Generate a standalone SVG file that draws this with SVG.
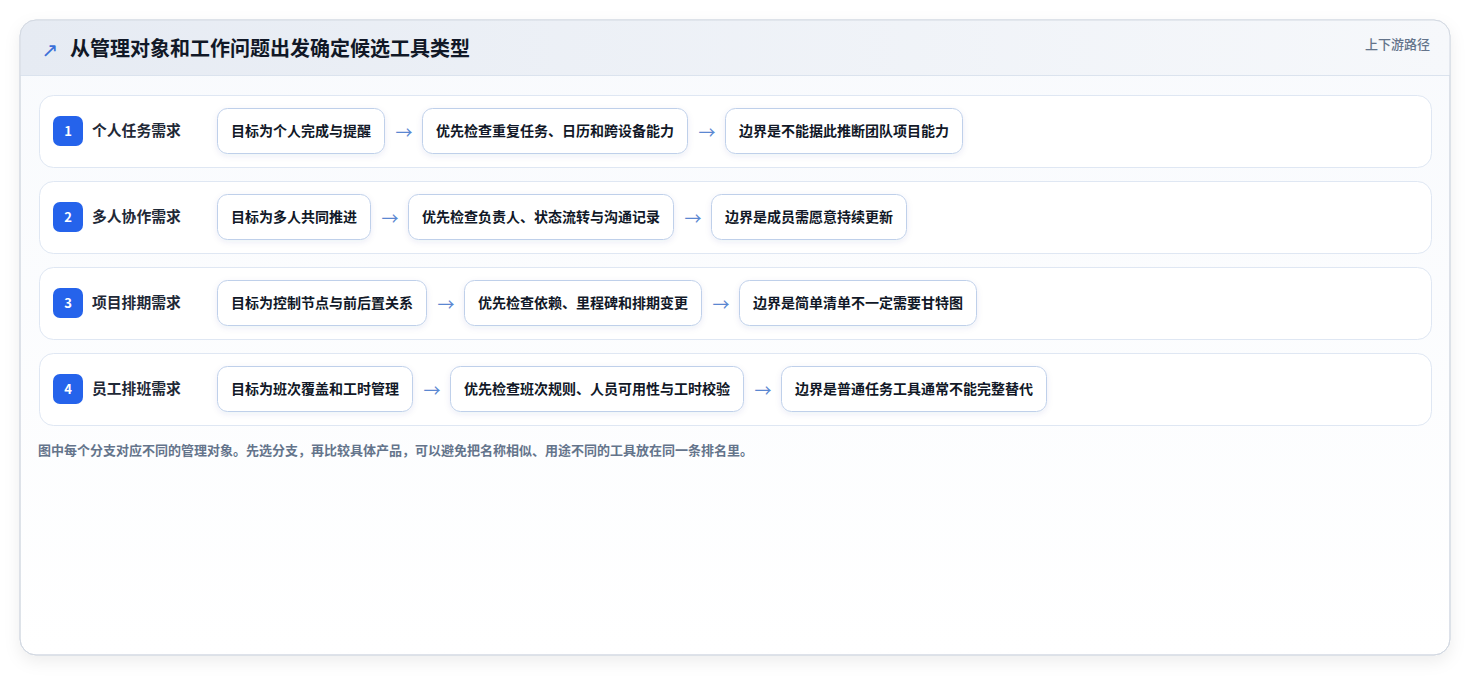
<svg xmlns="http://www.w3.org/2000/svg" width="1471" height="676" viewBox="0 0 1471 676">
<style>
text{font-family:"Noto Sans CJK SC","Noto Sans",sans-serif;}
.title{font-size:20px;font-weight:700;fill:#111827;}
.meta{font-size:13px;font-weight:500;fill:#64748b;}
.row{fill:#ffffff;stroke:#dfe7f3;stroke-width:1;}
.badge{fill:#2563eb;}
.num{font-size:13px;font-weight:700;fill:#ffffff;text-anchor:middle;}
.lab{font-size:14.8px;font-weight:700;fill:#1f2937;}
.box{fill:#ffffff;stroke:#bfd0ea;stroke-width:1;filter:url(#bs);}
.bt{font-size:14px;font-weight:700;fill:#111827;text-anchor:middle;}
.arr{font-size:17px;fill:#5b87d1;text-anchor:middle;}
.note{font-size:13px;font-weight:700;fill:#64748b;}
</style>
<defs>
<linearGradient id="hg" x1="0" y1="0" x2="1" y2="0">
<stop offset="0" stop-color="#e6ebf3"/>
<stop offset="1" stop-color="#f6f8fb"/>
</linearGradient>
<linearGradient id="cg" x1="0" y1="0" x2="0" y2="1">
<stop offset="0" stop-color="#f8fafd"/>
<stop offset="1" stop-color="#ffffff"/>
</linearGradient>
<filter id="cs" x="-5%" y="-5%" width="110%" height="115%">
<feDropShadow dx="0" dy="6" stdDeviation="8" flood-color="#0f172a" flood-opacity="0.07"/>
</filter>
<filter id="bs" x="-10%" y="-20%" width="120%" height="150%">
<feDropShadow dx="0" dy="2" stdDeviation="3" flood-color="#1e3a8a" flood-opacity="0.08"/>
</filter>
<clipPath id="cc"><rect x="20" y="20" width="1430" height="635" rx="16"/></clipPath>
</defs>
<rect x="0" y="0" width="1471" height="676" fill="#ffffff"/>
<g id="card">
<rect x="20" y="20" width="1430" height="635" rx="16" fill="url(#cg)" stroke="#d3d9e2" filter="url(#cs)"/>
<g clip-path="url(#cc)">
<rect x="20" y="20" width="1430" height="55" fill="url(#hg)"/>
<line x1="20" y1="75.5" x2="1450" y2="75.5" stroke="#dbe3ee"/>
</g>
<rect x="20" y="20" width="1430" height="635" rx="16" fill="none" stroke="#d3d9e2"/>
</g>
<g id="header">
<text x="50" y="57" font-size="20" fill="#3b6fd8" text-anchor="middle" style="font-family:'DejaVu Sans',sans-serif">↗</text>
<text class="title" x="70" y="56">从管理对象和工作问题出发确定候选工具类型</text>
<text class="meta" x="1430" y="49" text-anchor="end">上下游路径</text>
</g>
<g id="row1">
<rect class="row" x="39.5" y="95.5" width="1392" height="72" rx="14"/>
<rect class="badge" x="53" y="116" width="30" height="30" rx="7"/>
<text class="num" x="68" y="136">1</text>
<text class="lab" x="92" y="136">个人任务需求</text>
</g>
<g id="row2">
<rect class="row" x="39.5" y="181.5" width="1392" height="72" rx="14"/>
<rect class="badge" x="53" y="202" width="30" height="30" rx="7"/>
<text class="num" x="68" y="222">2</text>
<text class="lab" x="92" y="222">多人协作需求</text>
</g>
<g id="row3">
<rect class="row" x="39.5" y="267.5" width="1392" height="72" rx="14"/>
<rect class="badge" x="53" y="288" width="30" height="30" rx="7"/>
<text class="num" x="68" y="308">3</text>
<text class="lab" x="92" y="308">项目排期需求</text>
</g>
<g id="row4">
<rect class="row" x="39.5" y="353.5" width="1392" height="72" rx="14"/>
<rect class="badge" x="53" y="374" width="30" height="30" rx="7"/>
<text class="num" x="68" y="394">4</text>
<text class="lab" x="92" y="394">员工排班需求</text>
</g>
<g id="n1a"><rect class="box" x="217.5" y="108.5" width="167" height="45" rx="10"/><text class="bt" x="301" y="136">目标为个人完成与提醒</text></g>
<g id="n1b"><rect class="box" x="422.5" y="108.5" width="265" height="45" rx="10"/><text class="bt" x="555" y="136">优先检查重复任务、日历和跨设备能力</text></g>
<g id="n1c"><rect class="box" x="725.5" y="108.5" width="237" height="45" rx="10"/><text class="bt" x="844" y="136">边界是不能据此推断团队项目能力</text></g>
<g id="n2a"><rect class="box" x="217.5" y="194.5" width="153" height="45" rx="10"/><text class="bt" x="294" y="222">目标为多人共同推进</text></g>
<g id="n2b"><rect class="box" x="408.5" y="194.5" width="265" height="45" rx="10"/><text class="bt" x="541" y="222">优先检查负责人、状态流转与沟通记录</text></g>
<g id="n2c"><rect class="box" x="711.5" y="194.5" width="195" height="45" rx="10"/><text class="bt" x="809" y="222">边界是成员需愿意持续更新</text></g>
<g id="n3a"><rect class="box" x="217.5" y="280.5" width="209" height="45" rx="10"/><text class="bt" x="322" y="308">目标为控制节点与前后置关系</text></g>
<g id="n3b"><rect class="box" x="464.5" y="280.5" width="237" height="45" rx="10"/><text class="bt" x="583" y="308">优先检查依赖、里程碑和排期变更</text></g>
<g id="n3c"><rect class="box" x="739.5" y="280.5" width="237" height="45" rx="10"/><text class="bt" x="858" y="308">边界是简单清单不一定需要甘特图</text></g>
<g id="n4a"><rect class="box" x="217.5" y="366.5" width="195" height="45" rx="10"/><text class="bt" x="315" y="394">目标为班次覆盖和工时管理</text></g>
<g id="n4b"><rect class="box" x="450.5" y="366.5" width="293" height="45" rx="10"/><text class="bt" x="597" y="394">优先检查班次规则、人员可用性与工时校验</text></g>
<g id="n4c"><rect class="box" x="781.5" y="366.5" width="265" height="45" rx="10"/><text class="bt" x="914" y="394">边界是普通任务工具通常不能完整替代</text></g>
<g id="connectors">
<text class="arr" x="404" y="139">→</text>
<text class="arr" x="707" y="139">→</text>
<text class="arr" x="390" y="225">→</text>
<text class="arr" x="693" y="225">→</text>
<text class="arr" x="446" y="311">→</text>
<text class="arr" x="721" y="311">→</text>
<text class="arr" x="432" y="397">→</text>
<text class="arr" x="763" y="397">→</text>
</g>
<g id="footer">
<text class="note" x="38" y="455">图中每个分支对应不同的管理对象。先选分支，再比较具体产品，可以避免把名称相似、用途不同的工具放在同一条排名里。</text>
</g>
</svg>
